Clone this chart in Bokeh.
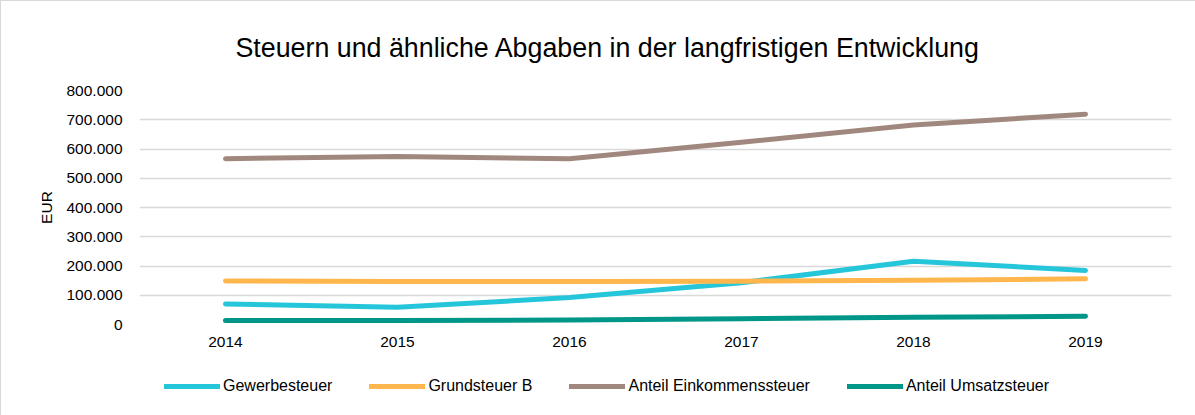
from bokeh.plotting import figure
from bokeh.layouts import column
from bokeh.models import Legend, LegendItem, CustomJSTickFormatter, FixedTicker, Range1d
from bokeh.embed import file_html
from bokeh.resources import INLINE

years = ["2014", "2015", "2016", "2017", "2018", "2019"]
gewerbesteuer = [70000, 59000, 92000, 143000, 216000, 185000]
grundsteuer_b = [149000, 147000, 147000, 148000, 151000, 156000]
anteil_einkommensteuer = [567000, 574000, 567000, 623000, 682000, 719000]
anteil_umsatzsteuer = [14000, 14000, 15000, 20000, 25000, 28000]
series_names = ["Gewerbesteuer", "Grundsteuer B", "Anteil Einkommenssteuer", "Anteil Umsatzsteuer"]
colors = ["#26C6DA", "#FFB74D", "#A1887F", "#009688"]
y_ticks = [0, 100000, 200000, 300000, 400000, 500000, 600000, 700000, 800000]
series_values = [gewerbesteuer, grundsteuer_b, anteil_einkommensteuer, anteil_umsatzsteuer]

FONT = "Liberation Sans"
BORDER = "1px solid #D9D9D9"

p = figure(x_range=years, y_range=Range1d(0, 800000), width=1195, height=360,
           output_backend="svg", toolbar_location=None,
           min_border_left=138, min_border_right=25, min_border_top=89, min_border_bottom=37,
           styles={"border-left": BORDER, "border-top": BORDER, "box-sizing": "border-box"})

p.title.text = "Steuern und ähnliche Abgaben in der langfristigen Entwicklung"
p.title.text_font = FONT
p.title.text_font_size = "26.8px"
p.title.text_font_style = "normal"
p.title.text_color = "#000000"
p.title.align = "left"
p.title.offset = 96
p.title.standoff = 56

for vals, col in zip(series_values, colors):
    p.line(years, vals, line_color=col, line_width=5, line_cap="round", line_join="round")

p.xgrid.grid_line_color = None
p.ygrid.grid_line_color = "#D9D9D9"
p.ygrid.grid_line_width = 1.5
p.outline_line_color = None

p.yaxis.ticker = FixedTicker(ticks=y_ticks)
p.yaxis.formatter = CustomJSTickFormatter(code="return tick == 0 ? '0' : tick.toLocaleString('de-DE');")
p.yaxis.axis_label = "EUR"
p.yaxis.axis_label_text_font = FONT
p.yaxis.axis_label_text_font_size = "15.5px"
p.yaxis.axis_label_text_font_style = "normal"
p.yaxis.axis_label_standoff = 8
p.yaxis.axis_label_text_color = "#000000"

for ax in [p.xaxis[0], p.yaxis[0]]:
    ax.axis_line_color = None
    ax.major_tick_line_color = None
    ax.minor_tick_line_color = None
    ax.major_label_text_font = FONT
    ax.major_label_text_font_size = "15.5px"
    ax.major_label_text_color = "#000000"
p.yaxis.major_label_standoff = 11
p.xaxis.major_label_standoff = 6

# Legend strip below the chart (series drawn out of view; used only for the legend glyphs)
p2 = figure(x_range=years, y_range=Range1d(-2, -1), width=1195, height=55,
            output_backend="svg", toolbar_location=None,
            min_border_left=0, min_border_right=0, min_border_top=0, min_border_bottom=0,
            styles={"border-left": BORDER, "box-sizing": "border-box"})
p2.axis.visible = False
p2.grid.grid_line_color = None
p2.outline_line_color = None
items = []
for name, vals, col in zip(series_names, series_values, colors):
    r = p2.line(years, vals, line_color=col, line_width=5, line_cap="round")
    items.append(LegendItem(label=name, renderers=[r]))

legend = Legend(items=items, orientation="horizontal", location=(25, 17), padding=0, margin=0,
                spacing=37, glyph_width=56, glyph_height=24, label_standoff=3,
                label_text_font=FONT, label_text_font_size="16px", label_text_color="#000000",
                border_line_color=None, background_fill_alpha=0)
p2.add_layout(legend, "center")

layout = column(p, p2, spacing=0)
open("out.html", "w").write(file_html(layout, INLINE))
